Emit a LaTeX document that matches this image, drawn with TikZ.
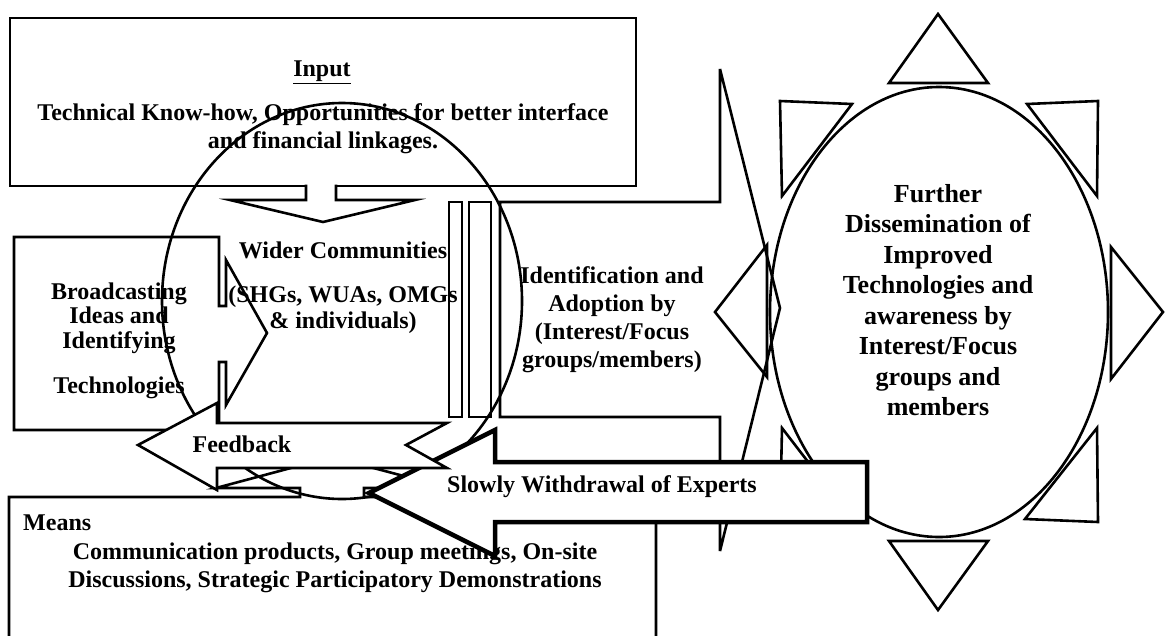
\documentclass[tikz,border=0pt]{standalone}
\usepackage{fontspec}
\setmainfont{Liberation Serif}
\tikzset{
  shp/.style={draw=black, line width=2.6pt, fill=white, line join=miter},
  thk/.style={draw=black, line width=4.5pt, fill=white, line join=miter},
  ln/.style={draw=black, line width=2.6pt, line join=miter},
  txt/.style={font=\fontsize{24}{28}\selectfont\bfseries, align=center, inner sep=0pt},
}
\begin{document}
\begin{tikzpicture}[x=1pt,y=-1pt]
\useasboundingbox (0,0) rectangle (1167,635);
\clip (0,0) rectangle (1167,635);
\fill[white] (0,0) rectangle (1167,635);

% Input box
\path[shp] (10,18) rectangle (636,186);
\node[txt] (inputtitle) at (322,72) {\underline{Input}};
\node[txt] (inputbody) at (323,129) {Technical Know-how, Opportunities for better interface\\and financial linkages.};

% down arrow from input
\fill[white] (306,183) -- (306,200) -- (230,200) -- (323,222) -- (415,200) -- (336,200) -- (336,183) -- cycle;
\draw[ln] (306,184.7) -- (306,200) -- (230,200) -- (323,222) -- (415,200) -- (336,200) -- (336,184.7);

% Broadcasting callout
\path[shp] (14,237) -- (219,237) -- (219,306) -- (226,306) -- (226,260) -- (267,333) -- (226,405) -- (226,362) -- (219,362) -- (219,430) -- (14,430) -- cycle;
\node[txt, font=\fontsize{24}{24.5}\selectfont\bfseries] (bcast) at (119,318) {Broadcasting\\Ideas and\\Identifying};
\node[txt] (btech) at (119,388) {Technologies};

% striped arrow
\path[shp] (449,202) rectangle (462,417);
\path[shp] (469,202) rectangle (491,417);
\path[shp, miter limit=5] (500,202) -- (720,202) -- (720,69) -- (780,308) -- (720,551) -- (720,417) -- (500,417) -- cycle;
\node[txt] (ident) at (612,320) {Identification and\\Adoption by\\(Interest/Focus\\groups/members)};

% Means callout
\path[shp] (9,497) -- (300,497) -- (300,488) -- (216,488) -- (332,457) -- (449,488) -- (364,488) -- (364,497) -- (656,497) -- (656,700) -- (9,700) -- cycle;
\node[txt, anchor=west] (meanst) at (23,523) {Means};
\node[txt] (meansb) at (335,568) {Communication products, Group meetings, On-site\\Discussions, Strategic Participatory Demonstrations};

% right ellipse and triangles
\draw[ln] (939,312) ellipse [x radius=169pt, y radius=225pt];
\draw[ln] (938,14) -- (889,83) -- (988,83) -- cycle;
\draw[ln] (889,541) -- (988,541) -- (938,610) -- cycle;
\draw[ln] (767,245) -- (767,377) -- (715,312) -- cycle;
\draw[ln] (1111,247) -- (1111,379) -- (1163,312) -- cycle;
\draw[ln] (780,101) -- (852,104) -- (782,196) -- cycle;
\draw[ln] (1027,104) -- (1098,101) -- (1097,196) -- cycle;
\draw[ln] (782,428) -- (780,522) -- (852,519) -- cycle;
\draw[ln] (1097,428) -- (1098,522) -- (1025,519) -- cycle;
\node[txt, font=\fontsize{26}{30.5}\selectfont\bfseries] (diss) at (938,300) {Further\\Dissemination of\\Improved\\Technologies and\\awareness by\\Interest/Focus\\groups and\\members};

% big circle
\draw[ln] (342,301) ellipse [x radius=180pt, y radius=198pt];
\node[txt] (wider) at (343,250) {Wider Communities};
\node[txt, font=\fontsize{24}{26}\selectfont\bfseries] (shg) at (343,310) {(SHGs, WUAs, OMGs\\\& individuals)};

% withdrawal arrow
\path[thk] (369,493) -- (495,430) -- (495,462) -- (867,462) -- (867,522) -- (495,522) -- (495,556) -- cycle;
\node[txt] (withdraw) at (602,487) {Slowly Withdrawal of Experts};

% feedback arrow
\path[shp] (138,445) -- (217,403) -- (217,423) -- (447,423) -- (406,445) -- (447,468) -- (217,468) -- (217,490) -- cycle;
\node[txt] (fb) at (242,444) {Feedback};
\end{tikzpicture}
\end{document}
